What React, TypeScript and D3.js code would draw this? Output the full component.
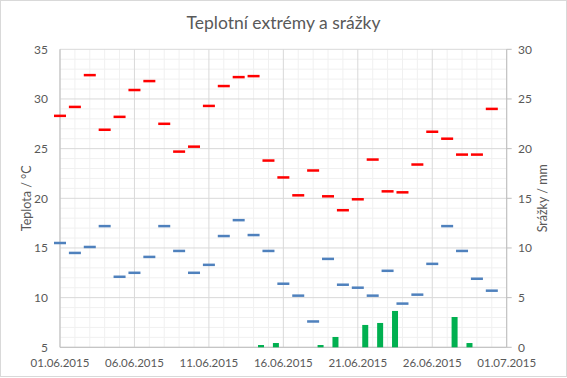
import React from "react";
import * as d3 from "d3";

const dates: string[] = [
  "2015-06-01","2015-06-02","2015-06-03","2015-06-04","2015-06-05","2015-06-06",
  "2015-06-07","2015-06-08","2015-06-09","2015-06-10","2015-06-11","2015-06-12",
  "2015-06-13","2015-06-14","2015-06-15","2015-06-16","2015-06-17","2015-06-18",
  "2015-06-19","2015-06-20","2015-06-21","2015-06-22","2015-06-23","2015-06-24",
  "2015-06-25","2015-06-26","2015-06-27","2015-06-28","2015-06-29","2015-06-30",
];
const maxTemp: number[] = [28.3,29.2,32.4,26.9,28.2,30.9,31.8,27.5,24.7,25.2,29.3,31.3,32.2,32.3,23.8,22.1,20.3,22.8,20.2,18.8,19.9,23.9,20.7,20.6,23.4,26.7,26.0,24.4,24.4,29.0];
const minTemp: number[] = [15.5,14.5,15.1,17.2,12.1,12.5,14.1,17.2,14.7,12.5,13.3,16.2,17.8,16.3,14.7,11.4,10.2,7.6,13.9,11.3,11.0,10.2,12.7,9.4,10.3,13.4,17.2,14.7,11.9,10.7];
const precip: number[] = [0,0,0,0,0,0,0,0,0,0,0,0,0,0.23,0.43,0,0,0.23,1.04,0,2.25,2.45,3.66,0,0,0,3.05,0.43,0,0];
const xTickDates: string[] = ["2015-06-01","2015-06-06","2015-06-11","2015-06-16","2015-06-21","2015-06-26","2015-07-01"];
const leftTicks: number[] = [5,10,15,20,25,30,35];
const rightTicks: number[] = [0,5,10,15,20,25,30];

const W = 567, H = 378;
const L = 60, R = 506.7, T = 49.3, B = 347.3;
const FONT = "Lato, 'Open Sans', sans-serif";
const TXT = "#595959";

export default function App() {
  const parse = (s: string) => new Date(s + "T00:00:00Z");
  const x = d3.scaleUtc().domain([parse("2015-06-01"), parse("2015-07-01")]).range([L, R]);
  const yL = d3.scaleLinear().domain([5, 35]).range([B, T]);
  const yR = d3.scaleLinear().domain([0, 30]).range([B, T]);
  const dayW = x(parse("2015-06-02")) - x(parse("2015-06-01"));
  const allDays = d3.utcDay.range(parse("2015-06-01"), d3.utcDay.offset(parse("2015-07-01"), 1));
  const minorY = d3.range(5, 35.01, 1);
  const fmt = d3.utcFormat("%d.%m.%Y");
  const dashW = 12;
  const barW = 6;

  return (
    <svg width={W} height={H} style={{ position: "absolute", left: 0, top: 0 }} fontFamily={FONT}>
      <rect x={0.5} y={0.5} width={W - 1} height={H - 2} fill="#fff" stroke="#d9d9d9" />
      <text x={W / 2} y={29} textAnchor="middle" fontSize={17.5} fill={TXT}>Teplotní extrémy a srážky</text>
      {/* minor gridlines */}
      {minorY.filter(v => v % 5 !== 0).map(v => (
        <line key={"my" + v} x1={L} x2={R} y1={yL(v)} y2={yL(v)} stroke="#f0f0f0" strokeWidth={1} />
      ))}
      {allDays.map((d, i) => (
        i % 5 !== 0 ? <line key={"mx" + i} x1={x(d)} x2={x(d)} y1={T} y2={B} stroke="#f0f0f0" strokeWidth={1} /> : null
      ))}
      {/* major gridlines */}
      {leftTicks.map(v => (
        <line key={"gy" + v} x1={L} x2={R} y1={yL(v)} y2={yL(v)} stroke="#d9d9d9" strokeWidth={1} />
      ))}
      {xTickDates.map(s => (
        <line key={"gx" + s} x1={x(parse(s))} x2={x(parse(s))} y1={T} y2={B} stroke="#d9d9d9" strokeWidth={1} />
      ))}
      {/* axes */}
      <line x1={L} x2={L} y1={T} y2={B} stroke="#bfbfbf" />
      <line x1={R} x2={R} y1={T} y2={B} stroke="#bfbfbf" />
      <line x1={L} x2={R} y1={B} y2={B} stroke="#bfbfbf" />
      {rightTicks.map(v => (
        <line key={"rt" + v} x1={R} x2={R + 5} y1={yR(v)} y2={yR(v)} stroke="#bfbfbf" />
      ))}
      {/* bars */}
      {precip.map((p, i) => (
        p > 0 ? <rect key={"b" + i} x={x(parse(dates[i])) + dayW / 2 - barW / 2} y={yR(p)} width={barW} height={yR(0) - yR(p)} fill="#00b050" /> : null
      ))}
      {/* max dashes */}
      {maxTemp.map((v, i) => (
        <rect key={"mx" + i} x={x(parse(dates[i])) - dashW / 2} y={yL(v) - 1.25} width={dashW} height={2.5} fill="#ff0000" />
      ))}
      {minTemp.map((v, i) => (
        <rect key={"mn" + i} x={x(parse(dates[i])) - dashW / 2} y={yL(v) - 1.25} width={dashW} height={2.5} fill="#4f81bd" />
      ))}
      {/* tick labels */}
      {leftTicks.map(v => (
        <text key={"lt" + v} x={48} y={yL(v)} dy="0.35em" textAnchor="end" fontSize={12} fill={TXT}>{v}</text>
      ))}
      {rightTicks.map(v => (
        <text key={"rl" + v} x={518} y={yR(v)} dy="0.35em" textAnchor="start" fontSize={12} fill={TXT}>{v}</text>
      ))}
      {xTickDates.map(s => (
        <text key={"xl" + s} x={x(parse(s))} y={363} dy="0.35em" textAnchor="middle" fontSize={11.5} fill={TXT}>{fmt(parse(s))}</text>
      ))}
      <text transform={`translate(27,${(T + B) / 2}) rotate(-90)`} textAnchor="middle" dy="0.35em" fontSize={12.5} fill={TXT}>Teplota / °C</text>
      <text transform={`translate(543,${(T + B) / 2}) rotate(-90)`} textAnchor="middle" dy="0.35em" fontSize={12.5} fill={TXT}>Srážky / mm</text>
    </svg>
  );
}
